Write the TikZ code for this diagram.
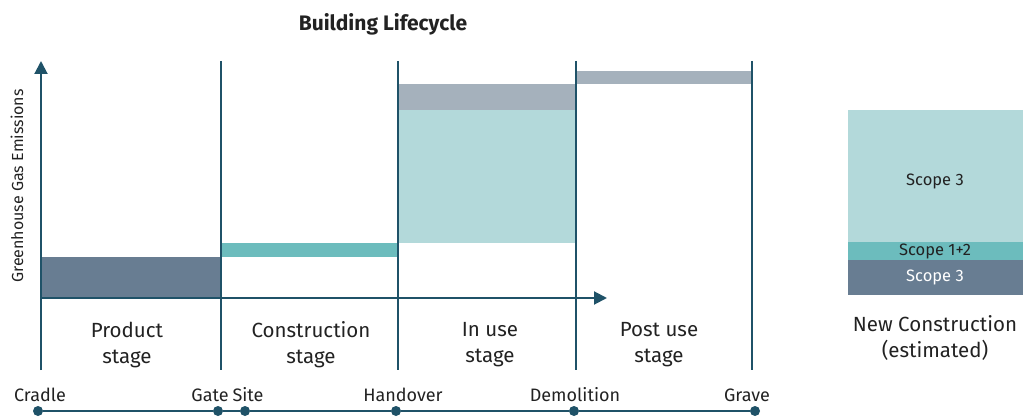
\documentclass[tikz,border=0pt]{standalone}
\usepackage{fontspec}
\setmainfont{Fira Sans}
\usetikzlibrary{arrows.meta}
\definecolor{axisblue}{HTML}{1F5268}
\definecolor{slate}{HTML}{687D92}
\definecolor{teal}{HTML}{6CBCBD}
\definecolor{paleteal}{HTML}{B3D9DA}
\definecolor{greyband}{HTML}{A5B1BC}
\definecolor{inktext}{HTML}{222222}
\newcommand{\fsz}[2]{\fontsize{#1}{#2}\selectfont}

\begin{document}
\begin{tikzpicture}[x=1pt,y=-1pt,
    every node/.style={text=inktext},
    stage/.style={align=center,font=\fsz{20.5}{26},text=inktext},
    mark label/.style={font=\fsz{18}{20}},
    scope label/.style={font=\fsz{16.5}{18}},
    axisline/.style={draw=axisblue,line width=2pt},
    dot/.style={circle,fill=axisblue,inner sep=0pt,minimum size=10pt}]
    \useasboundingbox (0,0) rectangle (1023,417);

    % emission bars
    \fill[slate] (41,257) rectangle (221,298);
    \fill[teal] (221,243) rectangle (398,257);
    \fill[paleteal] (398,110) rectangle (576,243);
    \fill[greyband] (398,84) rectangle (576,110);
    \fill[greyband] (576,71) rectangle (752,84);

    % stage borders
    \coordinate (top1) at (221,61);  \coordinate (bot1) at (221,370);
    \coordinate (top2) at (398,61);  \coordinate (bot2) at (398,370);
    \coordinate (top3) at (576,61);  \coordinate (bot3) at (576,370);
    \coordinate (top4) at (752,61);  \coordinate (bot4) at (752,370);
    \draw[axisline] (top1) -- (bot1) (top2) -- (bot2)
      (top3) -- (bot3) (top4) -- (bot4);

    % axes
    \coordinate (origin) at (41,298);
    \coordinate (ytip) at (41,61);
    \coordinate (ybot) at (41,370);
    \coordinate (xtip) at (607,298);
    \draw[axisline,-{Triangle[length=13pt,width=13pt]}] (ybot) -- (ytip);
    \draw[axisline,-{Triangle[length=13pt,width=13pt]}] (origin) -- (xtip);

    \node[font=\bfseries\fsz{21}{24}] (title) at (383,24) {Building Lifecycle};
    \node[rotate=90,font=\fsz{16}{18}] (ylabel) at (17,186) {Greenhouse Gas Emissions};

    \node[stage] (product) at (127,345) {Product\\stage};
    \node[stage] (construction) at (311,345) {Construction\\stage};
    \node[stage] (inuse) at (490,345) {In use\\stage};
    \node[stage] (postuse) at (659,345) {Post use\\stage};

    % timeline
    \node[dot] (cradle) at (38,411) {};
    \node[dot] (gate) at (218,411) {};
    \node[dot] (site) at (245,411) {};
    \node[dot] (handover) at (396,411) {};
    \node[dot] (demolition) at (574,411) {};
    \node[dot] (grave) at (755,411) {};
    \draw[axisline] (cradle) -- (gate) -- (site) -- (handover)
      -- (demolition) -- (grave);
    \node[mark label] (cradlelbl) at (40,395) {Cradle};
    \node[mark label] (gatelbl) at (210,395) {Gate};
    \node[mark label] (sitelbl) at (248,395) {Site};
    \node[mark label] (handoverlbl) at (403,395) {Handover};
    \node[mark label] (demolitionlbl) at (575,395) {Demolition};
    \node[mark label] (gravelbl) at (747,395) {Grave};

    % new construction column
    \fill[paleteal] (848,110) rectangle (1023,242);
    \fill[teal] (848,242) rectangle (1023,260);
    \fill[slate] (848,260) rectangle (1023,295);
    \node[scope label] (upper3) at (935,181) {Scope 3};
    \node[scope label] (scope12) at (935,251) {Scope 1+2};
    \node[scope label,text=white] (lower3) at (935,277) {Scope 3};
    \node[stage] (newcons) at (935,338) {New Construction\\(estimated)};
\end{tikzpicture}
\end{document}
